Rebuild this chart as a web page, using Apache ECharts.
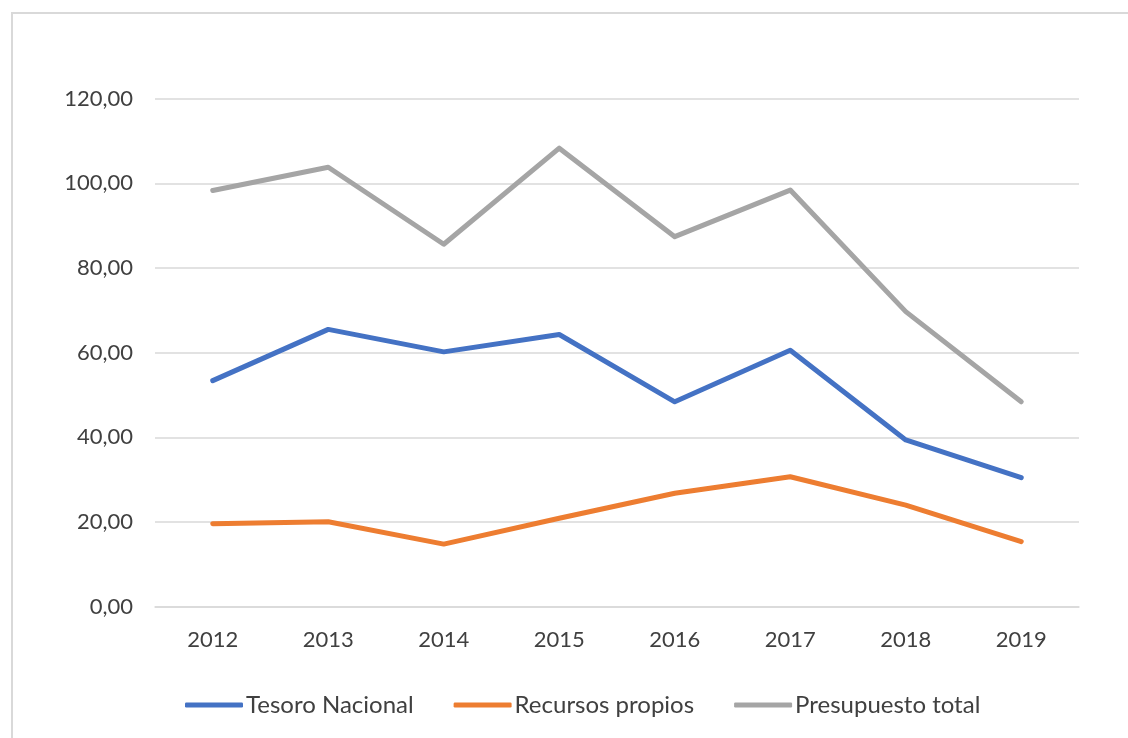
<!DOCTYPE html>
<html>
<head>
<meta charset="utf-8">
<script src="https://cdn.jsdelivr.net/npm/echarts@6/dist/echarts.min.js"></script>
<style>
  html, body { margin: 0; padding: 0; background: #fff; }
  #chart { width: 1128px; height: 738px; }
</style>
</head>
<body>
<div id="chart"></div>
<script>
// data
const years = ['2012', '2013', '2014', '2015', '2016', '2017', '2018', '2019'];
const tesoroNacional = [53.4, 65.5, 60.2, 64.3, 48.4, 60.6, 39.4, 30.5];
const recursosPropios = [19.6, 20.1, 14.8, 20.9, 26.8, 30.7, 24.0, 15.4];
const presupuestoTotal = [98.3, 103.8, 85.6, 108.3, 87.4, 98.4, 69.7, 48.4];

const font = 'Lato';
const textColor = '#404040';

const chart = echarts.init(document.getElementById('chart'), null, { renderer: 'canvas' });

function lineSeries(name, data, color) {
  return {
    name: name,
    type: 'line',
    data: data,
    symbol: 'none',
    color: color,
    lineStyle: { width: 5, color: color, cap: 'round', join: 'round' },
    emphasis: { disabled: true }
  };
}

chart.setOption({
  animation: false,
  backgroundColor: '#fff',
  graphic: [{
    type: 'rect',
    shape: { x: 12, y: 13, width: 1200, height: 800 },
    style: { fill: 'none', stroke: '#d9d9d9', lineWidth: 2 },
    silent: true
  }],
  grid: { left: 155, right: 49, top: 98.6, bottom: 131.2 },
  xAxis: {
    type: 'category',
    data: years,
    boundaryGap: true,
    axisLine: { show: true, lineStyle: { color: '#d9d9d9', width: 1.5 } },
    axisTick: { show: false },
    axisLabel: { color: textColor, fontFamily: font, fontSize: 22, margin: 22 }
  },
  yAxis: {
    type: 'value',
    min: 0,
    max: 120,
    interval: 20,
    axisLine: { show: false },
    axisTick: { show: false },
    splitLine: { lineStyle: { color: '#d9d9d9', width: 1.5 } },
    axisLabel: {
      color: textColor, fontFamily: font, fontSize: 22, margin: 22,
      formatter: v => v.toFixed(2).replace('.', ',')
    }
  },
  legend: {
    bottom: 16,
    left: 180,
    itemWidth: 58,
    itemHeight: 5,
    itemGap: 40,
    icon: 'roundRect',
    textStyle: { color: textColor, fontFamily: font, fontSize: 24, padding: [0, 0, 0, -2] },
    data: ['Tesoro Nacional', 'Recursos propios', 'Presupuesto total']
  },
  series: [
    lineSeries('Tesoro Nacional', tesoroNacional, '#4472C4'),
    lineSeries('Recursos propios', recursosPropios, '#ED7D31'),
    lineSeries('Presupuesto total', presupuestoTotal, '#A5A5A5')
  ]
});
</script>
</body>
</html>
